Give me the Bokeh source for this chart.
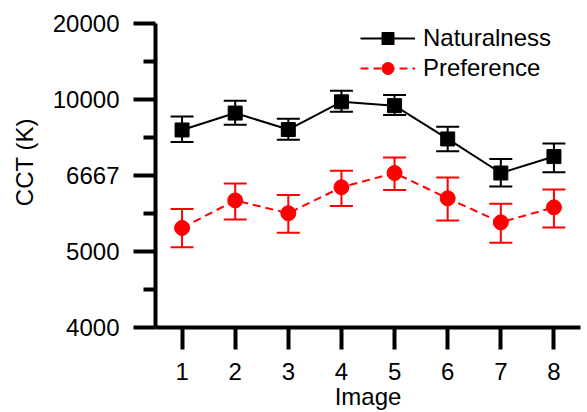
from bokeh.plotting import figure
from bokeh.models import (Range1d, FixedTicker, Whisker, ColumnDataSource,
                          Legend, LegendItem, TeeHead)
from bokeh.embed import file_html
from bokeh.resources import INLINE

# ---- data (CCT in K) ----
images = [1, 2, 3, 4, 5, 6, 7, 8]
nat_cct = [8330, 9180, 8350, 9850, 9610, 7940, 6740, 7270]
nat_hi = [8990, 9920, 8870, 10620, 10300, 8480, 7190, 7760]
nat_lo = [7810, 8580, 7910, 9260, 9070, 7460, 6360, 6760]
pref_cct = [5420, 6010, 5720, 6340, 6740, 6060, 5530, 5850]
pref_hi = [5810, 6440, 6140, 6810, 7240, 6610, 5930, 6280]
pref_lo = [5070, 5590, 5330, 5880, 6270, 5570, 5150, 5430]
y_tick_cct = [20000, 10000, 6667, 5000, 4000]
y_tick_labels = ["20000", "10000", "6667", "5000", "4000"]
x_tick_labels = ["1", "2", "3", "4", "5", "6", "7", "8"]

FONT = "Liberation Sans"
FS = "24px"


def mired(vals):
    return [1e6 / v for v in vals]


nat = ColumnDataSource(dict(x=images, y=mired(nat_cct), hi=mired(nat_hi), lo=mired(nat_lo)))
pref = ColumnDataSource(dict(x=images, y=mired(pref_cct), hi=mired(pref_hi), lo=mired(pref_lo)))

y_ticks = [round(1e6 / t) for t in y_tick_cct]
y_minor = [(a + b) / 2 for a, b in zip(y_ticks[:-1], y_ticks[1:])]

p = figure(width=587, height=412, output_backend="svg", toolbar_location=None,
           x_range=Range1d(0.5, 8.5), y_range=Range1d(y_ticks[-1], y_ticks[0]),
           min_border_left=155, min_border_right=7, min_border_top=23, min_border_bottom=85)
p.outline_line_color = None
p.xgrid.visible = False
p.ygrid.visible = False
p.background_fill_color = "white"
p.border_fill_color = "white"

# axes
p.xaxis.ticker = FixedTicker(ticks=images)
p.xaxis.major_label_overrides = {i: s for i, s in zip(images, x_tick_labels)}
p.yaxis.ticker = FixedTicker(ticks=y_ticks, minor_ticks=y_minor)
p.yaxis.major_label_overrides = {t: s for t, s in zip(y_ticks, y_tick_labels)}
p.xaxis.axis_label = "Image"
# leading no-break spaces shift the rotated title slightly upward, as in the reference
p.yaxis.axis_label = "\u00a0\u00a0\u00a0\u00a0CCT (K)"
for ax in (p.xaxis[0], p.yaxis[0]):
    ax.axis_line_width = 4
    ax.axis_line_color = "black"
    ax.major_tick_line_width = 4
    ax.minor_tick_line_width = 4
    ax.major_tick_in = 0
    ax.major_tick_out = 22
    ax.minor_tick_in = 0
    ax.minor_tick_out = 12
    ax.major_label_text_font = FONT
    ax.major_label_text_font_size = FS
    ax.major_label_text_color = "black"
    ax.axis_label_text_font = FONT
    ax.axis_label_text_font_size = FS
    ax.axis_label_text_font_style = "normal"
    ax.axis_label_text_color = "black"
p.xaxis.minor_tick_out = 0
p.xaxis.major_label_standoff = 13
p.xaxis.axis_label_standoff = 0
p.yaxis.major_label_standoff = 14
p.yaxis.axis_label_standoff = 12

# error bars
p.add_layout(Whisker(source=nat, base="x", upper="hi", lower="lo", line_color="black", line_width=2,
                     upper_head=TeeHead(size=23, line_color="black", line_width=2),
                     lower_head=TeeHead(size=23, line_color="black", line_width=2)))
p.add_layout(Whisker(source=pref, base="x", upper="hi", lower="lo", line_color="red", line_width=2,
                     upper_head=TeeHead(size=23, line_color="red", line_width=2),
                     lower_head=TeeHead(size=23, line_color="red", line_width=2)))

nat_line = p.line("x", "y", source=nat, line_color="black", line_width=2)
nat_pts = p.scatter("x", "y", source=nat, marker="square", size=14, fill_color="black", line_color="black")
pref_line = p.line("x", "y", source=pref, line_color="red", line_width=2, line_dash="8 5")
pref_pts = p.scatter("x", "y", source=pref, marker="circle", size=15, fill_color="red", line_color="red")

legend = Legend(items=[LegendItem(label="Naturalness", renderers=[nat_line, nat_pts]),
                       LegendItem(label="Preference", renderers=[pref_line, pref_pts])],
                location=(205, 244), glyph_width=55, glyph_height=30, spacing=0,
                label_standoff=8, padding=0, margin=0,
                border_line_color=None, background_fill_alpha=0,
                label_text_font=FONT, label_text_font_size=FS, label_text_color="black",
                label_height=30)
p.add_layout(legend)

open("out.html", "w").write(file_html(p, INLINE))
